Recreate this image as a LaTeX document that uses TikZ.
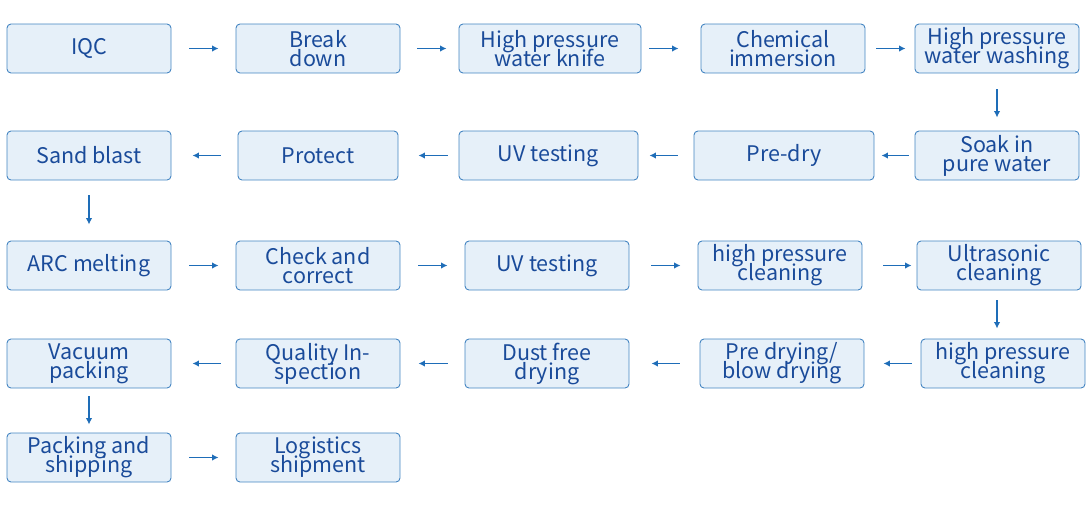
\documentclass[tikz,border=0pt]{standalone}
\usepackage{fontspec}
\usepackage{tikz}
\usetikzlibrary{arrows.meta}
\newfontfamily\boxfont{Noto Sans CJK SC}
\newcommand\stepfont{\boxfont\fontsize{21.5pt}{19pt}\selectfont\lineskiplimit=-40pt\relax}
\definecolor{BoxFill}{HTML}{E6F0F9}
\definecolor{BoxLine}{HTML}{4485C2}
\definecolor{BoxText}{HTML}{1A4B9A}
\definecolor{ArrBlue}{HTML}{1E6DB8}
\tikzset{
    stepbox/.style={draw=BoxLine, fill=BoxFill, rounded corners=4pt, line width=0.9pt,
        minimum width=164pt, minimum height=49pt, inner sep=0pt, align=center,
        text=BoxText, font=\stepfont},
    flow/.style={ArrBlue, line width=1.7pt, arrows={-Latex[length=6.5pt,width=6.5pt]}}
}

\begin{document}
\begin{tikzpicture}[x=1pt,y=-1pt]
                    \useasboundingbox (0,0) rectangle (1090,507);
%                    row 1
                    \node[stepbox] (iqc) at (89,48.5) {IQC};
                    \node[stepbox] (brk) at (318,48.5) {Break\\down};
                    \node[stepbox, minimum width=182pt] (knife) at (550,48.5) {High pressure\\water knife};
                    \node[stepbox] (chem) at (783,48.5) {Chemical\\immersion};
                    \node[stepbox] (wash) at (997,48.5) {High pressure\\water washing};
%                    row 2
                    \node[stepbox] (sand) at (89,155.5) {Sand blast};
                    \node[stepbox, minimum width=160pt] (prot) at (318,155.5) {Protect};
                    \node[stepbox, minimum width=179pt] (uva) at (548.5,155.5) {UV testing};
                    \node[stepbox, minimum width=180pt] (predry) at (784,155.5) {Pre-dry};
                    \node[stepbox] (soak) at (997,155.5) {Soak in\\pure water};
%                    row 3
                    \node[stepbox] (arc) at (89,265.5) {ARC melting};
                    \node[stepbox] (check) at (318,265.5) {Check and\\correct};
                    \node[stepbox] (uvb) at (547,265.5) {UV testing};
                    \node[stepbox] (hpca) at (780,265.5) {high pressure\\cleaning};
                    \node[stepbox] (ultra) at (999,265.5) {Ultrasonic\\cleaning};
%                    row 4
                    \node[stepbox] (vac) at (89,363.5) {Vacuum\\packing};
                    \node[stepbox] (qual) at (318,363.5) {Quality In-\\spection};
                    \node[stepbox] (dust) at (547,363.5) {Dust free\\drying};
                    \node[stepbox] (blow) at (782,363.5) {Pre drying/\\blow drying};
                    \node[stepbox] (hpcb) at (1003,363.5) {high pressure\\cleaning};
%                    row 5
                    \node[stepbox] (pack) at (89,457.5) {Packing and\\shipping};
                    \node[stepbox] (logi) at (318,457.5) {Logistics\\shipment};

                    \draw[flow, shorten <=18pt, shorten >=17pt] (iqc.east) -- (brk.west);
                    \draw[flow, shorten <=17pt, shorten >=12pt] (brk.east) -- (knife.west);
                    \draw[flow, shorten <=8pt, shorten >=22pt] (knife.east) -- (chem.west);
                    \draw[flow, shorten <=11pt, shorten >=9pt] (chem.east) -- (wash.west);
                    \draw[flow, shorten <=16pt, shorten >=13pt] (wash.south) -- (soak.north);
                    \draw[flow, shorten <=6pt, shorten >=7pt] (soak.west) -- (predry.east);
                    \draw[flow, shorten <=16pt, shorten >=11pt] (predry.west) -- (uva.east);
                    \draw[flow, shorten <=11pt, shorten >=20pt] (uva.west) -- (prot.east);
                    \draw[flow, shorten <=17pt, shorten >=21pt] (prot.west) -- (sand.east);
                    \draw[flow, shorten <=15pt, shorten >=16pt] (sand.south) -- (arc.north);
                    \draw[flow, shorten <=18pt, shorten >=17pt] (arc.east) -- (check.west);
                    \draw[flow, shorten <=18pt, shorten >=17pt] (check.east) -- (uvb.west);
                    \draw[flow, shorten <=22pt, shorten >=17pt] (uvb.east) -- (hpca.west);
                    \draw[flow, shorten <=21pt, shorten >=5pt] (hpca.east) -- (ultra.west);
                    \draw[flow, shorten <=10pt, shorten >=10pt] ([xshift=-2pt]ultra.south) -- ([xshift=-6pt]hpcb.north);
                    \draw[flow, shorten <=9pt, shorten >=19pt] (hpcb.west) -- (blow.east);
                    \draw[flow, shorten <=20pt, shorten >=22pt] (blow.west) -- (dust.east);
                    \draw[flow, shorten <=17pt, shorten >=18pt] (dust.west) -- (qual.east);
                    \draw[flow, shorten <=15pt, shorten >=21pt] (qual.west) -- (vac.east);
                    \draw[flow, shorten <=8pt, shorten >=8pt] (vac.south) -- (pack.north);
                    \draw[flow, shorten <=18pt, shorten >=17pt] (pack.east) -- (logi.west);
                \end{tikzpicture}
\end{document}
